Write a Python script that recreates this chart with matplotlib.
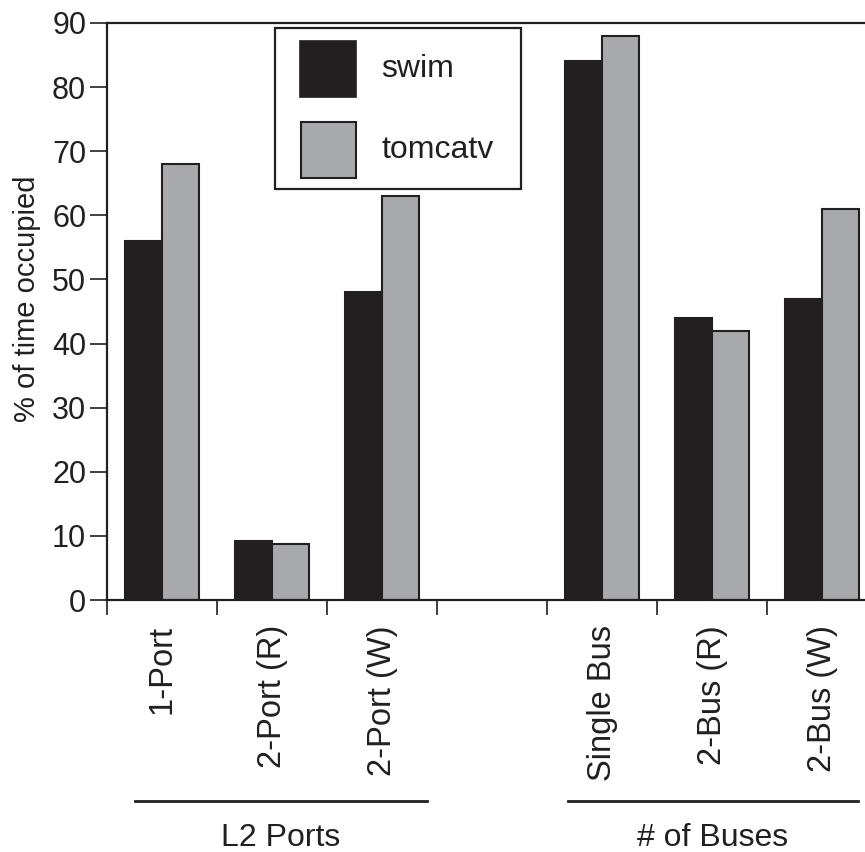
import numpy as np
import matplotlib
matplotlib.use("Agg")
import matplotlib.pyplot as plt
from matplotlib.patches import Rectangle
from matplotlib.lines import Line2D

categories = ["1-Port", "2-Port (R)", "2-Port (W)", "", "Single Bus", "2-Bus (R)", "2-Bus (W)"]
swim = [56, 9.2, 48, np.nan, 84, 44, 47]
tomcatv = [68, 8.7, 63, np.nan, 88, 42, 61]
series_names = ["swim", "tomcatv"]
group_labels = ["L2 Ports", "# of Buses"]
y_ticks = [0, 10, 20, 30, 40, 50, 60, 70, 80, 90]

DARK = "#231f20"
GRAY = "#a7a9ac"

plt.rcParams['font.family'] = ['Liberation Sans', 'DejaVu Sans']
W, H = 865, 852
fig = plt.figure(figsize=(W / 100, H / 100), dpi=100)

def fx(px):
    return px / W

def fy(py):
    return 1 - py / H

ax = fig.add_axes([fx(107), fy(600), fx(877) - fx(107), fy(23) - fy(600)])

x = np.arange(len(categories))
bw = 0.34
ax.bar(x - bw / 2, swim, width=bw, color=DARK, edgecolor=DARK, linewidth=1.5)
ax.bar(x + bw / 2, tomcatv, width=bw, color=GRAY, edgecolor=DARK, linewidth=1.5)

ax.set_xlim(-0.5, len(categories) - 0.5)
ax.set_ylim(0, 90)
ax.set_yticks(y_ticks)
ax.tick_params(axis='y', direction='out', length=12, width=1.2, color=DARK,
               labelsize=22, pad=3, labelcolor=DARK)

ax.set_xticks(np.arange(len(categories) + 1) - 0.5)
ax.set_xticklabels([])
ax.tick_params(axis='x', which='major', direction='out', length=11, width=1.2, color=DARK)
ax.set_xticks(x, minor=True)
ax.set_xticklabels(categories, minor=True, rotation=90, fontsize=23.5, color=DARK)
ax.tick_params(axis='x', which='minor', length=0, pad=18)

ax.spines['right'].set_visible(False)
for s in ['left', 'bottom', 'top']:
    ax.spines[s].set_color(DARK)
    ax.spines[s].set_linewidth(1.6)

ax.set_ylabel("% of time occupied", fontsize=21, color=DARK)
ax.yaxis.set_label_coords(-0.086, 0.522)

# legend box (manual)
fig.add_artist(Rectangle((fx(275), fy(189)), fx(521) - fx(275), fy(28) - fy(189),
                         transform=fig.transFigure, facecolor='white', edgecolor=DARK, linewidth=1.6))
fig.add_artist(Rectangle((fx(300), fy(97)), fx(356) - fx(300), fy(41) - fy(97),
                         transform=fig.transFigure, facecolor=DARK, edgecolor=DARK, linewidth=1.2))
fig.add_artist(Rectangle((fx(301), fy(178)), fx(356) - fx(301), fy(122) - fy(178),
                         transform=fig.transFigure, facecolor=GRAY, edgecolor=DARK, linewidth=1.5))
fig.text(fx(381), fy(69), series_names[0], fontsize=23, color=DARK, va='center', ha='left')
fig.text(fx(381), fy(150), series_names[1], fontsize=23, color=DARK, va='center', ha='left')

# group lines and labels
fig.add_artist(Line2D([fx(135), fx(427)], [fy(801), fy(801)], transform=fig.transFigure,
                      color=DARK, linewidth=2))
fig.add_artist(Line2D([fx(568), fx(858)], [fy(801), fy(801)], transform=fig.transFigure,
                      color=DARK, linewidth=2))
fig.text(fx(281), fy(838), group_labels[0], fontsize=23, color=DARK, ha='center', va='center')
fig.text(fx(713), fy(838), group_labels[1], fontsize=23, color=DARK, ha='center', va='center')

fig.savefig("out.png", dpi=100)
